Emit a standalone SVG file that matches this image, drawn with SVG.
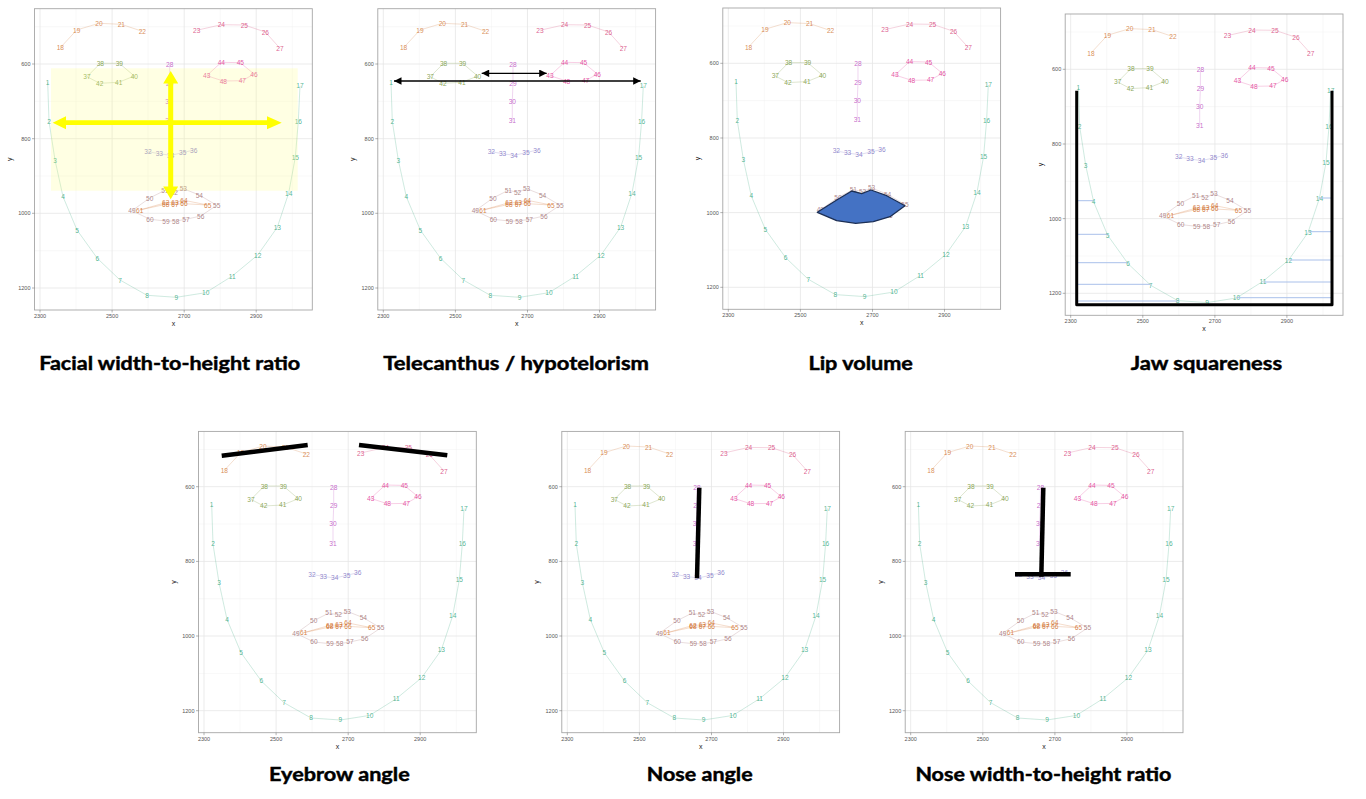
<svg xmlns="http://www.w3.org/2000/svg" xmlns:xlink="http://www.w3.org/1999/xlink" width="1366" height="799" viewBox="0 0 1366 799">
<style>
.gmaj{stroke:#e6e6e6;stroke-width:0.8;fill:none}
.gmin{stroke:#f0f0f0;stroke-width:0.5;fill:none}
.frame{fill:none;stroke:#a6a6a6;stroke-width:0.9}
.tick{stroke:#666;stroke-width:0.5}
.tl{font-family:"Liberation Sans",Arial,sans-serif;font-size:5.5px;fill:#555}
.at{font-family:"Liberation Sans",Arial,sans-serif;font-size:7px;fill:#222}
.lm text{font-family:"Liberation Sans",Arial,sans-serif;font-size:6.6px;text-anchor:middle;dominant-baseline:central;fill-opacity:0.85;stroke:none}
.jaw{fill:#35a97f;stroke:#35a97f}
.lb{fill:#d2793a;stroke:#d2793a}
.rb{fill:#d6457a;stroke:#d6457a}
.nb{fill:#bb4fc2;stroke:#bb4fc2}
.nl{fill:#7d72c4;stroke:#7d72c4}
.le{fill:#76973a;stroke:#76973a}
.re{fill:#e03592;stroke:#e03592}
.om{fill:#a27174;stroke:#a27174}
.im{fill:#cf6c28;stroke:#cf6c28}
.lm .ln{fill:none;stroke-width:0.8;stroke-opacity:0.3}
.title{font-family:Lato,"Open Sans","Liberation Sans",sans-serif;font-weight:700;font-size:19px;fill:#000;stroke:#000;stroke-width:0.45}
.thick{stroke:#000;stroke-width:4.5;fill:none;stroke-linecap:butt}
.blue{stroke:#a9c0ea;stroke-width:1}
</style>
<defs>
<marker id="tri" viewBox="0 0 10 10" refX="10" refY="5" markerWidth="9" markerHeight="7.5" markerUnits="userSpaceOnUse" orient="auto-start-reverse"><path d="M0,0L10,5L0,10z" fill="#000"/></marker>
<g id="face">
<rect x="-5.5" y="-55.3" width="277.8" height="301.3" fill="#fff"/>
<g class="gmin">
<path d="M36,-55.3V246M108.1,-55.3V246M180.2,-55.3V246M252.3,-55.3V246"/>
<path d="M-5.5,-37.3H272.3M-5.5,37.3H272.3M-5.5,112H272.3M-5.5,186.7H272.3"/>
</g>
<g class="gmaj">
<path d="M0,-55.3V246M72.1,-55.3V246M144.2,-55.3V246M216.2,-55.3V246"/>
<path d="M-5.5,0H272.3M-5.5,74.7H272.3M-5.5,149.3H272.3M-5.5,224H272.3"/>
</g>
<g class="lm">
<polyline class="ln jaw" points="7.7,18.3 9,57.3 15,96 23,132.7 37,166 57.3,194.3 80,216 107,231.3 136.3,233.3 165.7,228.7 192.3,212 217.7,191 237.3,163.3 248.7,129 255.3,93.3 258.3,57.3 260,21.7"/>
<polyline class="ln lb" points="20.3,-16.3 36.7,-34 59,-40.7 81.3,-39.7 102.3,-32.7"/>
<polyline class="ln rb" points="156.7,-33.7 181.3,-39.3 204.3,-39 225.3,-32 240,-15.7"/>
<polyline class="ln nb" points="129.7,0.3 129.7,19.3 129,37.3 129,56.7"/>
<polyline class="ln nl" points="108,87.7 119.3,89.7 130.7,91.3 142.7,88.7 153.7,86"/>
<polygon class="ln le" points="47,12.7 60.3,-0.7 79.3,-0.7 94.3,12 78.7,18.3 59.7,19.3"/>
<polygon class="ln re" points="166.7,11.7 181.3,-1.7 200.3,-1.3 214,10 202.3,16.7 183.3,17"/>
<polygon class="ln om" points="92,146.7 109.7,134 125,126.3 134.3,128.3 143.3,124.7 159.3,131 176.7,141.3 160.7,152 146,155.3 135.7,157 126,157 110,155.3"/>
<polygon class="ln im" points="99.7,146 125.7,138.7 135,138.3 144,136.3 167.7,141 144,139.7 135,140.3 125.7,140.3"/>
<g class="jaw">
<text x="7.7" y="18.3">1</text><text x="9" y="57.3">2</text><text x="15" y="96">3</text><text x="23" y="132.7">4</text><text x="37" y="166">5</text><text x="57.3" y="194.3">6</text><text x="80" y="216">7</text><text x="107" y="231.3">8</text><text x="136.3" y="233.3">9</text><text x="165.7" y="228.7">10</text><text x="192.3" y="212">11</text><text x="217.7" y="191">12</text><text x="237.3" y="163.3">13</text><text x="248.7" y="129">14</text><text x="255.3" y="93.3">15</text><text x="258.3" y="57.3">16</text><text x="260" y="21.7">17</text>
</g>
<g class="lb">
<text x="20.3" y="-16.3">18</text><text x="36.7" y="-34">19</text><text x="59" y="-40.7">20</text><text x="81.3" y="-39.7">21</text><text x="102.3" y="-32.7">22</text>
</g>
<g class="rb">
<text x="156.7" y="-33.7">23</text><text x="181.3" y="-39.3">24</text><text x="204.3" y="-39">25</text><text x="225.3" y="-32">26</text><text x="240" y="-15.7">27</text>
</g>
<g class="nb">
<text x="129.7" y="0.3">28</text><text x="129.7" y="19.3">29</text><text x="129" y="37.3">30</text><text x="129" y="56.7">31</text>
</g>
<g class="nl">
<text x="108" y="87.7">32</text><text x="119.3" y="89.7">33</text><text x="130.7" y="91.3">34</text><text x="142.7" y="88.7">35</text><text x="153.7" y="86">36</text>
</g>
<g class="le">
<text x="47" y="12.7">37</text><text x="60.3" y="-0.7">38</text><text x="79.3" y="-0.7">39</text><text x="94.3" y="12">40</text><text x="78.7" y="18.3">41</text><text x="59.7" y="19.3">42</text>
</g>
<g class="re">
<text x="166.7" y="11.7">43</text><text x="181.3" y="-1.7">44</text><text x="200.3" y="-1.3">45</text><text x="214" y="10">46</text><text x="202.3" y="16.7">47</text><text x="183.3" y="17">48</text>
</g>
<g class="om">
<text x="92" y="146.7">49</text><text x="109.7" y="134">50</text><text x="125" y="126.3">51</text><text x="134.3" y="128.3">52</text><text x="143.3" y="124.7">53</text><text x="159.3" y="131">54</text><text x="176.7" y="141.3">55</text><text x="160.7" y="152">56</text><text x="146" y="155.3">57</text><text x="135.7" y="157">58</text><text x="126" y="157">59</text><text x="110" y="155.3">60</text>
</g>
<g class="im">
<text x="99.7" y="146">61</text><text x="125.7" y="138.7">62</text><text x="135" y="138.3">63</text><text x="144" y="136.3">64</text><text x="167.7" y="141">65</text><text x="144" y="139.7">66</text><text x="135" y="140.3">67</text><text x="125.7" y="140.3">68</text>
</g>
</g>
<rect class="frame" x="-5.5" y="-55.3" width="277.8" height="301.3"/>
<path class="tick" d="M0,246V248.5M72.1,246V248.5M144.2,246V248.5M216.2,246V248.5M-5.5,0H-8M-5.5,74.7H-8M-5.5,149.3H-8M-5.5,224H-8"/>
<g class="tl" text-anchor="middle">
<text x="0" y="254">2300</text><text x="72.1" y="254">2500</text><text x="144.2" y="254">2700</text><text x="216.2" y="254">2900</text>
</g>
<g class="tl" text-anchor="end">
<text x="-9.5" y="2">600</text><text x="-9.5" y="76.7">800</text><text x="-9.5" y="151.3">1000</text><text x="-9.5" y="226">1200</text>
</g>
<text class="at" x="133.4" y="262" text-anchor="middle">x</text>
<text class="at" transform="translate(-28,95.3) rotate(-90)" text-anchor="middle">y</text>
</g>
</defs>

<rect width="1366" height="799" fill="#fff"/>

<g id="panel-fwhr">
<use xlink:href="#face" transform="translate(40,64)"/>
<rect x="51" y="68.3" width="246.7" height="122.4" fill="#ffff80" fill-opacity="0.22"/>
<polygon fill="#ffff00" points="52.7,122.7 66,116.2 66,120.3 267,120.3 267,116.2 281.7,122.7 267,129.2 267,125.1 66,125.1 66,129.2"/>
<polygon fill="#ffff00" points="170.7,71 178.2,83.5 173.2,83.5 173.2,186.5 178.2,186.5 170.7,199.3 163.2,186.5 168.2,186.5 168.2,83.5 163.2,83.5"/>
<text class="title" x="39.2" y="370" textLength="261" lengthAdjust="spacingAndGlyphs">Facial width-to-height ratio</text>
</g>

<g id="panel-telecanthus">
<use xlink:href="#face" transform="translate(383.3,64)"/>
<line x1="394" y1="81" x2="640.7" y2="81" stroke="#000" stroke-width="1.3" marker-start="url(#tri)" marker-end="url(#tri)"/>
<line x1="481.7" y1="73.3" x2="546.7" y2="73.3" stroke="#000" stroke-width="1.3" marker-start="url(#tri)" marker-end="url(#tri)"/>
<text class="title" x="383.3" y="370" textLength="265.7" lengthAdjust="spacingAndGlyphs">Telecanthus / hypotelorism</text>
</g>

<g id="panel-lip">
<use xlink:href="#face" transform="translate(728.3,63.3)"/>
<polygon fill="#4472c4" stroke="#1c2f55" stroke-width="1.3" stroke-linejoin="round" points="817.3,212.3 836.7,200 851.7,191 861.7,193.7 871,190 886.7,195.7 905,205.7 890,216.7 873.3,221.7 855.7,223.3 836.7,220.7"/>
<text class="title" x="808.4" y="370" textLength="104.5" lengthAdjust="spacingAndGlyphs">Lip volume</text>
</g>

<g id="panel-jaw">
<use xlink:href="#face" transform="translate(1070.7,69.3)"/>
<g class="blue">
<line x1="1076.7" y1="200.7" x2="1093.3" y2="200.7"/>
<line x1="1076.7" y1="234.3" x2="1107.7" y2="234.3"/>
<line x1="1076.7" y1="262.7" x2="1127.3" y2="262.7"/>
<line x1="1076.7" y1="284.3" x2="1150.7" y2="284.3"/>
<line x1="1076.7" y1="301" x2="1177.7" y2="301"/>
<line x1="1318.7" y1="198" x2="1332" y2="198"/>
<line x1="1308.7" y1="231.7" x2="1332" y2="231.7"/>
<line x1="1289.3" y1="260" x2="1332" y2="260"/>
<line x1="1263.3" y1="282" x2="1332" y2="282"/>
<line x1="1236.7" y1="297.7" x2="1332" y2="297.7"/>
</g>
<polyline points="1076.7,90.7 1076.7,304.7 1332,304.7 1332,90.7" fill="none" stroke="#000" stroke-width="3" stroke-linejoin="round"/>
<text class="title" x="1130.7" y="370" textLength="151.5" lengthAdjust="spacingAndGlyphs">Jaw squareness</text>
</g>

<g id="panel-eyebrow">
<use xlink:href="#face" transform="translate(204,486.7)"/>
<line class="thick" x1="221.7" y1="455.7" x2="307.7" y2="445"/>
<line class="thick" x1="359" y1="445" x2="447.3" y2="455.3"/>
<text class="title" x="269" y="781" textLength="140.7" lengthAdjust="spacingAndGlyphs">Eyebrow angle</text>
</g>

<g id="panel-nose-angle">
<use xlink:href="#face" transform="translate(567.3,486.7)"/>
<line class="thick" x1="699.3" y1="487.7" x2="697" y2="578.3"/>
<text class="title" x="646.8" y="781" textLength="105.9" lengthAdjust="spacingAndGlyphs">Nose angle</text>
</g>

<g id="panel-nose-ratio">
<use xlink:href="#face" transform="translate(910.7,486.7)"/>
<line class="thick" x1="1043.3" y1="487.7" x2="1041.3" y2="576.7"/>
<line class="thick" x1="1015" y1="574.3" x2="1070.7" y2="574.3"/>
<text class="title" x="915.4" y="781" textLength="256" lengthAdjust="spacingAndGlyphs">Nose width-to-height ratio</text>
</g>
</svg>
